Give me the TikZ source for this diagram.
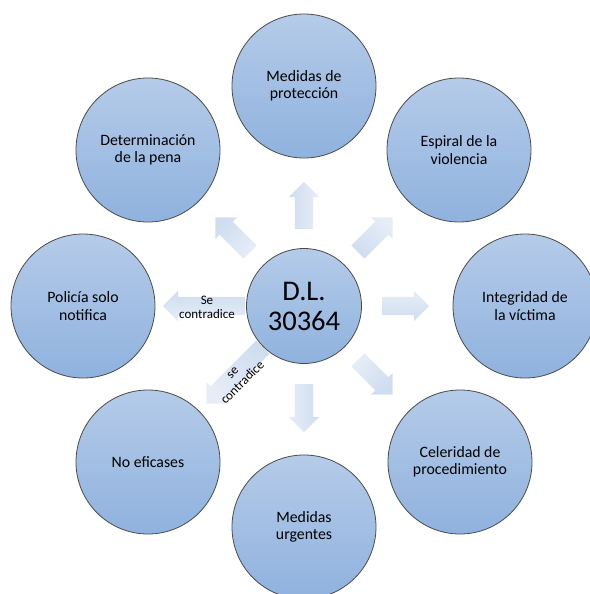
\documentclass[tikz,border=0pt]{standalone}
\usepackage{fontspec}
\setmainfont{Carlito}
\usetikzlibrary{shapes.arrows,calc}
\definecolor{cfTop}{RGB}{181,203,233}
\definecolor{cfBot}{RGB}{143,178,222}
\definecolor{cline}{RGB}{75,75,75}
\definecolor{aTop}{RGB}{230,237,247}
\definecolor{aBot}{RGB}{207,221,240}
\tikzset{
  circ/.style={circle, draw=cline, line width=0.8pt, top color=cfTop, bottom color=cfBot,
    minimum size=144pt, inner sep=0pt, align=center, font=\fontsize{15.8}{17.5}\selectfont},
  hub/.style={circ, minimum size=115pt, font=\fontsize{28.5}{30}\selectfont},
  barrow/.style={single arrow, draw=none, inner xsep=0pt, inner ysep=9pt, minimum width=0pt,
    single arrow head extend=6pt, single arrow tip angle=90, single arrow head indent=0pt,
    anchor=tail, rotate=#1, top color=aTop, bottom color=aBot, shading angle=-#1},
  lbl/.style={align=center, inner sep=0pt, font=\fontsize{13}{14.2}\selectfont}
}
\begin{document}
\begin{tikzpicture}[x=1pt,y=1pt]
\useasboundingbox (0,0) rectangle (589,-594);
\coordinate (c) at (304,-306);
% block arrows
\node[barrow=90,  minimum height=47pt] (aN)  at ($(c)+(90:77)$) {};
\node[barrow=270, minimum height=48pt] (aS)  at ($(c)+(270:78)$) {};
\node[barrow=0,   minimum height=47pt] (aE)  at ($(c)+(0:78)$) {};
\node[barrow=180, minimum height=82pt] (aW)  at ($(c)+(180:59)$) {};
\node[barrow=135, minimum height=49pt] (aNW) at ($(c)+(135:76)$) {};
\node[barrow=45,  minimum height=49pt] (aNE) at ($(c)+(45:76)$) {};
\node[barrow=315, minimum height=49pt] (aSE) at ($(c)+(315:76)$) {};
\node[barrow=225, minimum height=80pt] (aSW) at ($(c)+(225:58)$) {};
% circles
\node[hub] (dl) at (c) {D.L.\\30364};
\node[circ] (prot) at (304,-86) {Medidas de\\protección};
\node[circ] (espi) at (459,-150) {Espiral de la\\violencia};
\node[circ] (inte) at (525,-306) {Integridad de\\la víctima};
\node[circ] (cele) at (460,-462) {Celeridad de\\procedimiento};
\node[circ] (urge) at (304,-527) {Medidas\\urgentes};
\node[circ] (noef) at (148,-462) {No eficases};
\node[circ] (poli) at (83,-306) {Policía solo\\notifica};
\node[circ] (dete) at (148,-150) {Determinación\\de la pena};
% labels
\node[lbl] (l1) at (207,-307) {Se\\contradice};
\node[lbl, rotate=45] (l2) at (238,-378) {se\\contradice};
\end{tikzpicture}
\end{document}
